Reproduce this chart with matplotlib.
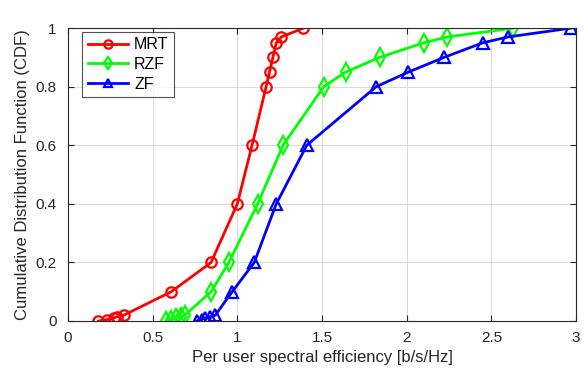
import matplotlib
matplotlib.use("Agg")
import matplotlib.pyplot as plt

plt.rcParams["font.family"] = ["Liberation Sans", "DejaVu Sans"]

cdf_mrt = [0, 0.005, 0.01, 0.015, 0.02, 0.1, 0.2, 0.4, 0.6, 0.8, 0.85, 0.9, 0.95, 0.97, 1.0]
se_mrt = [0.18, 0.23, 0.27, 0.29, 0.33, 0.61, 0.845, 1.0, 1.087, 1.17, 1.19, 1.21, 1.23, 1.26, 1.39]

cdf_rzf = [0, 0.005, 0.01, 0.015, 0.02, 0.1, 0.2, 0.4, 0.6, 0.8, 0.85, 0.9, 0.95, 0.97, 1.0]
se_rzf = [0.58, 0.61, 0.64, 0.67, 0.69, 0.845, 0.95, 1.12, 1.27, 1.51, 1.64, 1.84, 2.10, 2.24, 2.63]

cdf_zf = [0, 0.005, 0.01, 0.015, 0.02, 0.1, 0.2, 0.4, 0.6, 0.8, 0.85, 0.9, 0.95, 0.97, 1.0]
se_zf = [0.76, 0.79, 0.81, 0.84, 0.87, 0.97, 1.10, 1.23, 1.41, 1.82, 2.01, 2.22, 2.45, 2.60, 2.97]

fig = plt.figure(figsize=(5.86, 3.75), dpi=100)
ax = fig.add_axes([0.116, 0.144, 0.867, 0.781])

style = dict(linewidth=2, markerfacecolor="none", markeredgewidth=1.6)
ax.plot(se_mrt, cdf_mrt, "-o", color=(1, 0, 0), label="MRT", markersize=7.5, **style)
ax.plot(se_rzf, cdf_rzf, "-d", color=(0, 1, 0), label="RZF", markersize=9, **style)
ax.plot(se_zf, cdf_zf, "-^", color=(0, 0, 1), label="ZF", markersize=8.5, **style)

ax.set_xlim(0, 3)
ax.set_ylim(0, 1)
ax.set_xticks([0, 0.5, 1, 1.5, 2, 2.5, 3])
ax.set_xticklabels(["0", "0.5", "1", "1.5", "2", "2.5", "3"])
ax.set_yticks([0, 0.2, 0.4, 0.6, 0.8, 1])
ax.set_yticklabels(["0", "0.2", "0.4", "0.6", "0.8", "1"])
ax.grid(True, color="#dcdcdc", linewidth=0.8)
ax.set_axisbelow(True)
ax.tick_params(direction="in", top=True, right=True, labelsize=11, colors="#262626", length=4)
ax.tick_params(axis="x", pad=7)
ax.tick_params(axis="y", pad=8)
for s in ax.spines.values():
    s.set_color("#262626")
    s.set_linewidth(0.8)

ax.set_xlabel("Per user spectral efficiency [b/s/Hz]", fontsize=12, color="#262626", labelpad=4)
ax.set_ylabel("Cumulative Distribution Function (CDF)", fontsize=12, color="#262626", labelpad=4)

leg = ax.legend(loc="upper left", bbox_to_anchor=(0.028, 0.988), fontsize=11.5, fancybox=False,
                edgecolor="#262626", handlelength=2.5, borderpad=0.35, labelspacing=0.3,
                handletextpad=0.4, borderaxespad=0)
leg.get_frame().set_linewidth(0.8)
for h in leg.legend_handles:
    h.set_markersize(6)

fig.savefig("out.png", dpi=100)
